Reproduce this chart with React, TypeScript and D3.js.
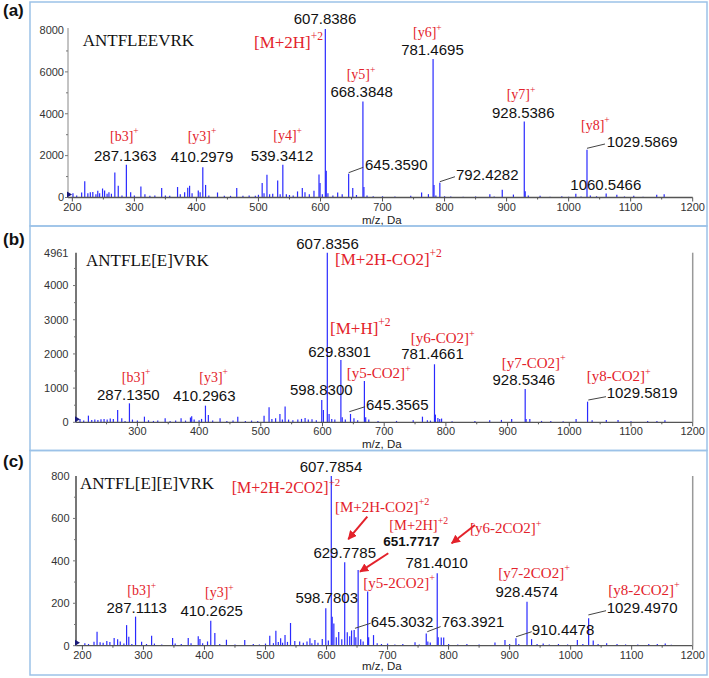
import React from 'react';
import * as d3 from 'd3';

type Peak = [number, number];

// peak lists [m/z, intensity]
const peaksA: Peak[] = [
  [201, 200], [207, 90], [215, 240], [220, 780], [225, 200], [229, 250], [233, 260], [238, 150],
  [241, 320], [244, 200], [248.7, 430], [252, 330], [256, 180], [259, 250], [263, 180],
  [268.5, 1200], [274, 560], [280, 100], [287.1, 1560], [294, 250], [300, 100], [310.5, 530],
  [317, 150], [325, 80], [333, 100], [344, 450], [350, 100], [357, 80], [369.6, 500], [374, 150],
  [381, 250], [386, 460], [389, 560], [393, 200], [403, 330], [406, 250], [410.3, 1450],
  [414.8, 600], [420, 100], [434, 240], [445, 80], [455, 80], [465, 450], [475, 80], [485, 100],
  [495, 80], [500, 130], [506, 690], [509, 200], [513.7, 1090], [518, 150], [523, 180],
  [531, 815], [535, 150], [539.3, 1560], [545, 150], [550, 120], [556, 100], [563, 290],
  [570.7, 450], [575, 250], [582, 150], [589.5, 320], [597.6, 1100], [599.3, 690], [603, 150],
  [607.8, 8050], [609.3, 1280], [612, 200], [620, 100], [627.7, 240], [635, 150], [645.4, 1130],
  [652, 450], [658, 120], [668.4, 4590], [670, 500], [675, 100], [685, 60], [700, 60], [720, 50],
  [745.5, 80], [763, 240], [774, 160], [781.5, 6620], [783, 600], [786, 100], [792.4, 710],
  [800, 60], [810, 50], [830, 40], [850, 50], [873, 160], [880, 50], [893, 370], [911, 140],
  [928.5, 3630], [930, 300], [935, 100], [954, 80], [970, 40], [989, 60], [1000, 40],
  [1011.6, 175], [1020, 50], [1029.6, 2275], [1035, 100], [1045, 60], [1060.5, 190],
  [1077.7, 130], [1090, 50], [1105, 80], [1120, 40], [1142, 130], [1154, 160],
];

const peaksB: Peak[] = [
  [207, 100], [213, 50], [220.6, 195], [226, 70], [231, 80], [236, 70], [241, 90], [246, 100],
  [251, 80], [256, 110], [261, 100], [268, 360], [274.7, 120], [280, 40], [287.1, 555], [292, 80],
  [300, 50], [311.4, 165], [318, 60], [326, 40], [333, 50], [345, 117], [353, 40], [362, 50],
  [370.8, 117], [378, 50], [386, 140], [388, 175], [392, 80], [400, 60], [404, 100], [410.3, 487],
  [415, 215], [422, 50], [434, 117], [445, 40], [455, 50], [462.7, 165], [475, 40], [485, 50],
  [495, 40], [505.3, 195], [513.4, 440], [518, 100], [524, 120], [531, 245], [535, 80],
  [539.4, 460], [545, 80], [552, 60], [560, 80], [566, 100], [571.8, 127], [577, 80], [583, 90],
  [590, 60], [598.8, 653], [601.5, 360], [607.8, 4961], [610.7, 245], [615, 100], [620, 80],
  [629.8, 1822], [632, 150], [637, 80], [645.4, 245], [651, 120], [657, 60], [667.9, 1208],
  [670, 150], [675, 80], [690, 40], [720, 40], [747, 60], [762, 165], [770, 60], [775, 50],
  [781.5, 1697], [783, 225], [787, 127], [790, 100], [793, 110], [810, 30], [847, 40], [871, 60],
  [890, 70], [906.6, 100], [928.5, 975], [930, 100], [936, 100], [955, 40], [970, 40], [990, 30],
  [1011, 100], [1029.6, 603], [1037, 60], [1060, 70], [1079, 70], [1100, 30], [1127, 40],
  [1142, 40], [1155, 60],
];

const peaksC: Peak[] = [
  [190, 97], [204, 11], [210, 8], [219, 19], [224, 66], [229, 16], [234, 14], [240, 22], [245, 18],
  [252, 36], [257.7, 30], [262, 20], [268, 10], [272.4, 97], [276, 42], [281, 8], [287.1, 137],
  [297, 19], [305, 8], [313.4, 47], [318, 10], [330, 6], [347.8, 36], [352, 10], [362, 8],
  [373.4, 36], [378, 12], [389.8, 44], [392.6, 31], [397, 12], [405, 20], [410.3, 118], [417, 60],
  [425, 8], [436, 28], [450, 6], [466, 27], [480, 8], [490, 6], [500, 10], [507, 47], [513, 12],
  [517, 71], [521, 18], [524.8, 35], [528, 14], [532, 50], [536, 18], [541, 107], [548, 22],
  [556, 20], [562, 14], [568, 20], [572.8, 35], [576, 12], [581, 27], [586, 14], [593, 31],
  [598.8, 176], [603, 24], [607.8, 800], [609.3, 137], [612, 105], [616, 40], [620, 64], [625, 30],
  [629.8, 393], [634, 63], [638, 45], [641, 72], [645.3, 74], [648, 40], [651.8, 357], [656, 30],
  [660, 20], [667.4, 255], [669, 40], [677, 50], [683, 12], [690, 8], [700, 10], [712, 6],
  [725, 8], [745, 16], [752, 6], [763.4, 58], [766, 20], [770, 15], [781.4, 341], [783, 40],
  [788, 39], [792, 39], [800, 8], [815, 6], [830, 8], [850, 6], [876, 15], [892.4, 27], [900, 8],
  [910.4, 35], [915, 8], [928.5, 207], [936, 31], [945, 8], [955, 10], [965, 6], [980, 8],
  [995, 6], [1011, 27], [1020, 8], [1029.5, 129], [1037, 24], [1045, 8], [1059, 11], [1076, 8],
  [1090, 6], [1110, 6], [1128, 8], [1142, 8], [1155, 10], [1165, 5],
];

const xTicksA = [200, 300, 400, 500, 600, 700, 800, 900, 1000, 1100, 1200];
const xTicksB = [300, 400, 500, 600, 700, 800, 900, 1000, 1100, 1200];
const xTicksC = [200, 300, 400, 500, 600, 700, 800, 900, 1000, 1100, 1200];
const yTicksA = [0, 2000, 4000, 6000, 8000];
const yTicksB = [0, 1000, 2000, 3000, 4000, 4961];
const yTicksC = [0, 200, 400, 600, 800];

type Note = {
  kind: 'seq' | 'num' | 'ion' | 'bold';
  mz: number;
  v: number;
  text: string;
  sup?: string;
  size?: number;
  anchor?: 'start' | 'middle';
};

// annotations, anchored in data units (m/z, intensity)
const notesA: Note[] = [
  { kind: 'seq', mz: 216.7, v: 7250, text: 'ANTFLEEVRK' },
  { kind: 'num', mz: 607.3, v: 8286, text: '607.8386', anchor: 'middle' },
  { kind: 'ion', mz: 492.8, v: 7154, text: '[M+2H]', sup: '+2', size: 17 },
  { kind: 'ion', mz: 642.2, v: 5660, text: '[y5]', sup: '+' },
  { kind: 'num', mz: 666.4, v: 4814, text: '668.3848', anchor: 'middle' },
  { kind: 'ion', mz: 749.1, v: 7651, text: '[y6]', sup: '+' },
  { kind: 'num', mz: 780.5, v: 6806, text: '781.4695', anchor: 'middle' },
  { kind: 'ion', mz: 900.1, v: 4704, text: '[y7]', sup: '+' },
  { kind: 'num', mz: 926.9, v: 3783, text: '928.5386', anchor: 'middle' },
  { kind: 'ion', mz: 1019.9, v: 3240, text: '[y8]', sup: '+' },
  { kind: 'num', mz: 1061.3, v: 2426, text: '1029.5869' },
  { kind: 'num', mz: 671.7, v: 1313, text: '645.3590' },
  { kind: 'num', mz: 818.4, v: 836, text: '792.4282' },
  { kind: 'num', mz: 1059.9, v: 358, text: '1060.5466', anchor: 'middle' },
  { kind: 'ion', mz: 260.7, v: 2713, text: '[b3]', sup: '+' },
  { kind: 'num', mz: 285.4, v: 1758, text: '287.1363', anchor: 'middle' },
  { kind: 'ion', mz: 385.9, v: 2713, text: '[y3]', sup: '+' },
  { kind: 'num', mz: 409, v: 1710, text: '410.2979', anchor: 'middle' },
  { kind: 'ion', mz: 523.9, v: 2746, text: '[y4]', sup: '+' },
  { kind: 'num', mz: 537.9, v: 1758, text: '539.3412', anchor: 'middle' },
];

const notesB: Note[] = [
  { kind: 'seq', mz: 216.7, v: 4581, text: 'ANTFLE[E]VRK' },
  { kind: 'num', mz: 608.1, v: 5060, text: '607.8356', anchor: 'middle' },
  { kind: 'ion', mz: 620.3, v: 4601, text: '[M+2H-CO2]', sup: '+2', size: 17 },
  { kind: 'ion', mz: 612.2, v: 2583, text: '[M+H]', sup: '+2', size: 17 },
  { kind: 'num', mz: 627.6, v: 1919, text: '629.8301', anchor: 'middle' },
  { kind: 'ion', mz: 639.2, v: 1287, text: '[y5-CO2]', sup: '+', size: 15 },
  { kind: 'num', mz: 598.1, v: 799, text: '598.8300', anchor: 'middle' },
  { kind: 'num', mz: 670.5, v: 360, text: '645.3565' },
  { kind: 'ion', mz: 743, v: 2311, text: '[y6-CO2]', sup: '+', size: 15 },
  { kind: 'num', mz: 778.3, v: 1852, text: '781.4661', anchor: 'middle' },
  { kind: 'ion', mz: 890.5, v: 1595, text: '[y7-CO2]', sup: '+', size: 15 },
  { kind: 'num', mz: 926.3, v: 1091, text: '928.5346', anchor: 'middle' },
  { kind: 'ion', mz: 1028.2, v: 1200, text: '[y8-CO2]', sup: '+', size: 15 },
  { kind: 'num', mz: 1060.6, v: 720, text: '1029.5819' },
  { kind: 'ion', mz: 274.6, v: 1188, text: '[b3]', sup: '+' },
  { kind: 'num', mz: 285.3, v: 652, text: '287.1350', anchor: 'middle' },
  { kind: 'ion', mz: 400.3, v: 1188, text: '[y3]', sup: '+' },
  { kind: 'num', mz: 408.4, v: 623, text: '410.2963', anchor: 'middle' },
];

const notesC: Note[] = [
  { kind: 'seq', mz: 196.1, v: 739, text: 'ANTFL[E][E]VRK' },
  { kind: 'num', mz: 607.3, v: 819, text: '607.7854', anchor: 'middle' },
  { kind: 'ion', mz: 444.6, v: 718, text: '[M+2H-2CO2]', sup: '+2', size: 16 },
  { kind: 'ion', mz: 613.9, v: 632, text: '[M+2H-CO2]', sup: '+2', size: 15 },
  { kind: 'num', mz: 629.8, v: 412, text: '629.7785', anchor: 'middle' },
  { kind: 'ion', mz: 702.8, v: 544, text: '[M+2H]', sup: '+2', size: 14.5 },
  { kind: 'bold', mz: 738.9, v: 470, text: '651.7717', anchor: 'middle' },
  { kind: 'num', mz: 780.5, v: 365, text: '781.4010', anchor: 'middle' },
  { kind: 'ion', mz: 835.1, v: 530, text: '[y6-2CO2]', sup: '+', size: 15 },
  { kind: 'ion', mz: 660.3, v: 271, text: '[y5-2CO2]', sup: '+', size: 15 },
  { kind: 'num', mz: 600.3, v: 200, text: '598.7803', anchor: 'middle' },
  { kind: 'num', mz: 672.4, v: 90, text: '645.3032' },
  { kind: 'num', mz: 788.7, v: 90, text: '763.3921' },
  { kind: 'ion', mz: 881.5, v: 318, text: '[y7-2CO2]', sup: '+', size: 15 },
  { kind: 'num', mz: 928, v: 228, text: '928.4574', anchor: 'middle' },
  { kind: 'num', mz: 936.2, v: 50, text: '910.4478' },
  { kind: 'ion', mz: 1061.7, v: 241, text: '[y8-2CO2]', sup: '+', size: 15 },
  { kind: 'num', mz: 1059, v: 153, text: '1029.4970' },
  { kind: 'ion', mz: 273.6, v: 237, text: '[b3]', sup: '+' },
  { kind: 'num', mz: 288.9, v: 153, text: '287.1113', anchor: 'middle' },
  { kind: 'ion', mz: 400.9, v: 230, text: '[y3]', sup: '+' },
  { kind: 'num', mz: 411.8, v: 140, text: '410.2625', anchor: 'middle' },
];

// leader lines [mz1, v1, mz2, v2]
const leadersA = [[645.4, 1185, 669, 1442], [792.4, 755, 816.8, 993], [1029.6, 2350, 1058.6, 2555]];
const leadersB = [[643.5, 310, 669, 456], [1030.8, 652, 1059.5, 749]];
const leadersC = [[646.6, 82, 672.4, 106], [765.1, 66, 787, 90], [910.5, 42, 936.2, 66], [1029, 145, 1058, 165]];
// red arrows [tailMz, tailV, headMz, headV]
const arrowsC = [[666.8, 608, 635.7, 502], [701.2, 436, 654.9, 349], [843.3, 569, 805.1, 483]];

const RED = '#e3222b';
const BLUE = '#2a2aff';
const SANS = '"Liberation Sans", Arial, sans-serif';
const SERIF = '"Liberation Serif", "Times New Roman", serif';

const panels = [
  {
    letter: '(a)', letterY: 16, box: [30, 2, 677, 224],
    xDomain: [193, 1200], xRange: [68, 692.7], yDomain: [0, 8000], yRange: [197.5, 30],
    xTicks: xTicksA, yTicks: yTicksA, yMinor: 1000, yLabelX: 64, yTop: 28, axisLabelY: 224,
    rightLine: false, thinY: true,
    peaks: peaksA, notes: notesA, leaders: leadersA, arrows: [] as number[][],
  },
  {
    letter: '(b)', letterY: 245, box: [30, 226, 677, 224.5],
    xDomain: [200.5, 1200], xRange: [76, 692.7], yDomain: [0, 4961], yRange: [422.3, 252.7],
    xTicks: xTicksB, yTicks: yTicksB, yMinor: 500, yLabelX: 68.5, yTop: 252.7, axisLabelY: 448,
    rightLine: true, thinY: false,
    peaks: peaksB, notes: notesB, leaders: leadersB, arrows: [] as number[][],
  },
  {
    letter: '(c)', letterY: 466.7, box: [30, 450.5, 677, 224.5],
    xDomain: [189.5, 1200], xRange: [76, 692.7], yDomain: [0, 800], yRange: [645.7, 476],
    xTicks: xTicksC, yTicks: yTicksC, yMinor: 100, yLabelX: 69.5, yTop: 476, axisLabelY: 670,
    rightLine: true, thinY: false,
    peaks: peaksC, notes: notesC, leaders: leadersC, arrows: arrowsC,
  },
];

const NoteText = ({ n, x, y }: { n: Note; x: number; y: number }) => {
  if (n.kind === 'seq') {
    return <text x={x} y={y} fontFamily={SERIF} fontSize={17} fill="#111">{n.text}</text>;
  }
  if (n.kind === 'ion') {
    const s = n.size ?? 14;
    return (
      <text x={x} y={y} fontFamily={SERIF} fontSize={s} fill={RED}>
        {n.text}
        <tspan fontSize={s * 0.68} dy={-s * 0.45}>{n.sup}</tspan>
      </text>
    );
  }
  return (
    <text x={x} y={y} fontFamily={SANS} fontSize={n.kind === 'bold' ? 13.5 : 15}
      fontWeight={n.kind === 'bold' ? 'bold' : 'normal'} fill="#111" textAnchor={n.anchor ?? 'start'}>
      {n.text}
    </text>
  );
};

const Panel = ({ p }: { p: typeof panels[number] }) => {
  const x = d3.scaleLinear().domain(p.xDomain).range(p.xRange);
  const y = d3.scaleLinear().domain(p.yDomain).range(p.yRange);
  const x0 = p.xRange[0];
  const base = y(0);
  const xMinor = d3.range(200, 1201, 50).filter(v => v >= p.xDomain[0]);
  const yMinor = d3.range(0, p.yDomain[1], p.yMinor);
  const [bx, by, bw, bh] = p.box;

  return (
    <g>
      <rect x={bx} y={by} width={bw} height={bh} fill="none" stroke="#9cc2e8" strokeWidth={1.5} />
      <text x={3} y={p.letterY} fontFamily={SANS} fontWeight="bold" fontSize={17} fill="#111">{p.letter}</text>

      {/* peaks */}
      {p.peaks.map(([mz, v], i) => (
        <line key={i} x1={x(mz)} x2={x(mz)} y1={base} y2={y(v)} stroke={BLUE} strokeWidth={1.2} />
      ))}

      {/* axes */}
      <line x1={x0} x2={x(1200)} y1={base} y2={base} stroke="#555" strokeWidth={1.3} />
      <line x1={x0} x2={x0} y1={base} y2={p.yTop} stroke={p.thinY ? '#888' : '#777'} strokeWidth={p.thinY ? 1 : 2} />
      {p.rightLine && (
        <line x1={x(1200)} x2={x(1200)} y1={base} y2={p.yTop} stroke="#999" strokeWidth={1.5} />
      )}
      {xMinor.map(v => (
        <line key={v} x1={x(v)} x2={x(v)} y1={base} y2={base + (v % 100 === 0 ? 4 : 2)} stroke="#555" />
      ))}
      {p.xTicks.map(v => (
        <text key={v} x={x(v)} y={base + 13} textAnchor="middle" fontFamily={SANS} fontSize={11} fill="#333">{v}</text>
      ))}
      {yMinor.map(v => (
        <line key={v} x1={x0 - (v % (p.yMinor * 2) === 0 ? 3 : 2)} x2={x0} y1={y(v)} y2={y(v)} stroke="#777" />
      ))}
      {p.yTicks.map(v => (
        <text key={v} x={p.yLabelX} y={y(v)} dy="0.35em" textAnchor="end" fontFamily={SANS} fontSize={11} fill="#333">{v}</text>
      ))}
      <path d={`M${x0 - 1},${base - 6}L${x0 + 4},${base - 3}L${x0 - 1},${base}Z`} fill="#1a1a7a" />
      <text x={362} y={p.axisLabelY} fontFamily={SANS} fontSize={11.5} fill="#222">m/z, Da</text>

      {/* leaders */}
      {p.leaders.map(([a, b, c, d], i) => (
        <line key={i} x1={x(a)} y1={y(b)} x2={x(c)} y2={y(d)} stroke="#444" strokeWidth={1} />
      ))}
      {p.arrows.map(([a, b, c, d], i) => (
        <line key={i} x1={x(a)} y1={y(b)} x2={x(c)} y2={y(d)} stroke={RED} strokeWidth={2} markerEnd="url(#redHead)" />
      ))}

      {p.notes.map((n, i) => (
        <NoteText key={i} n={n} x={x(n.mz)} y={y(n.v)} />
      ))}
    </g>
  );
};

export default function App() {
  return (
    <div style={{ position: 'absolute', left: 0, top: 0, background: '#fff' }}>
      <svg width={709} height={678} viewBox="0 0 709 678" style={{ display: 'block' }}>
        <defs>
          <marker id="redHead" viewBox="0 0 10 10" refX={9} refY={5} markerWidth={4.5} markerHeight={4.5} orient="auto">
            <path d="M0,0L10,5L0,10Z" fill={RED} />
          </marker>
        </defs>
        <rect width={709} height={678} fill="#fff" />
        {panels.map(p => <Panel key={p.letter} p={p} />)}
      </svg>
    </div>
  );
}
